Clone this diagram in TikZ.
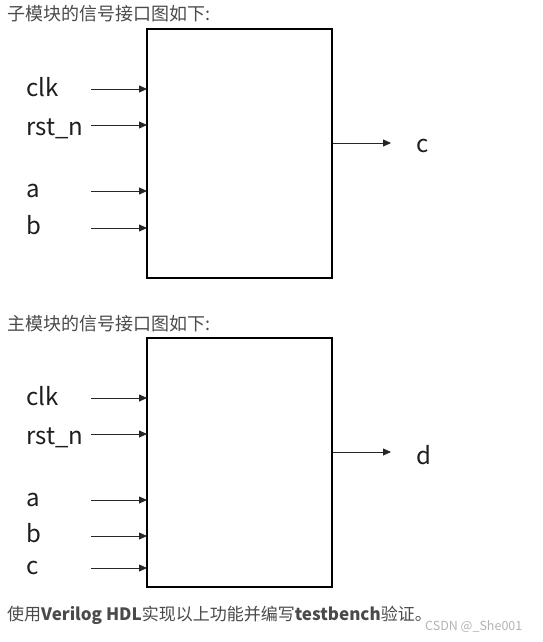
\documentclass[tikz,border=0pt]{standalone}
\usepackage{fontspec}
\setmainfont{Noto Sans CJK SC}
\usetikzlibrary{arrows.meta}
\definecolor{hdr}{HTML}{4A4A4A}
\definecolor{lbl}{HTML}{1E1E1E}
\definecolor{wm}{HTML}{B4B4B4}
\begin{document}
\begin{tikzpicture}[x=1pt,y=-1pt,
  box/.style={draw=black,line width=1.3pt},
  sig/.style={draw=black!85,line width=0.8pt,-{Triangle[length=8pt,width=7pt]}},
  port/.style={anchor=west,text=lbl,font=\fontsize{24}{26}\selectfont,inner sep=0pt},
  head/.style={anchor=west,text=hdr,font=\fontsize{18}{20}\selectfont,inner sep=0pt}]
\useasboundingbox[fill=white] (0,0) rectangle (542,642);
% ---------- sub module ----------
\node[head] (h1) at (7,14) {子模块的信号接口图如下:};
\draw[box] (147,29) rectangle (332,278);
\foreach \n/\y/\t/\ly in {clk/89/clk/87, rst/125/rst\_n/129, a/191/a/191, b/228/b/225}{
  \node[port] (s1\n) at (26,\ly) {\t};
  \coordinate (s1\n s) at (91,\y);
  \coordinate (s1\n e) at (147,\y);
  \draw[sig] (s1\n s) -- (s1\n e);
}
\coordinate (o1s) at (333,143);
\coordinate (o1e) at (391,143);
\draw[sig] (o1s) -- (o1e);
\node[port] (oc) at (416,146) {c};
% ---------- main module ----------
\node[head] (h2) at (7,324) {主模块的信号接口图如下:};
\draw[box] (147,338) rectangle (332,587);
\foreach \n/\y/\t/\ly in {clk/398/clk/396, rst/434/rst\_n/438, a/500/a/500, b/536/b/533, c/568/c/568}{
  \node[port] (s2\n) at (26,\ly) {\t};
  \coordinate (s2\n s) at (91,\y);
  \coordinate (s2\n e) at (147,\y);
  \draw[sig] (s2\n s) -- (s2\n e);
}
\coordinate (o2s) at (333,452);
\coordinate (o2e) at (391,452);
\draw[sig] (o2s) -- (o2e);
\node[port] (od) at (416,455) {d};
% ---------- footer ----------
\node[head,font=\fontsize{17}{19}\selectfont] (ft) at (7,615) {使用\textbf{Verilog HDL}实现以上功能并编写\textbf{testbench}验证。};
\node[anchor=west,text=wm,font=\fontsize{12.5}{14}\selectfont,inner sep=0pt] (wmk) at (425,627) {CSDN @\_She001};
\end{tikzpicture}
\end{document}
